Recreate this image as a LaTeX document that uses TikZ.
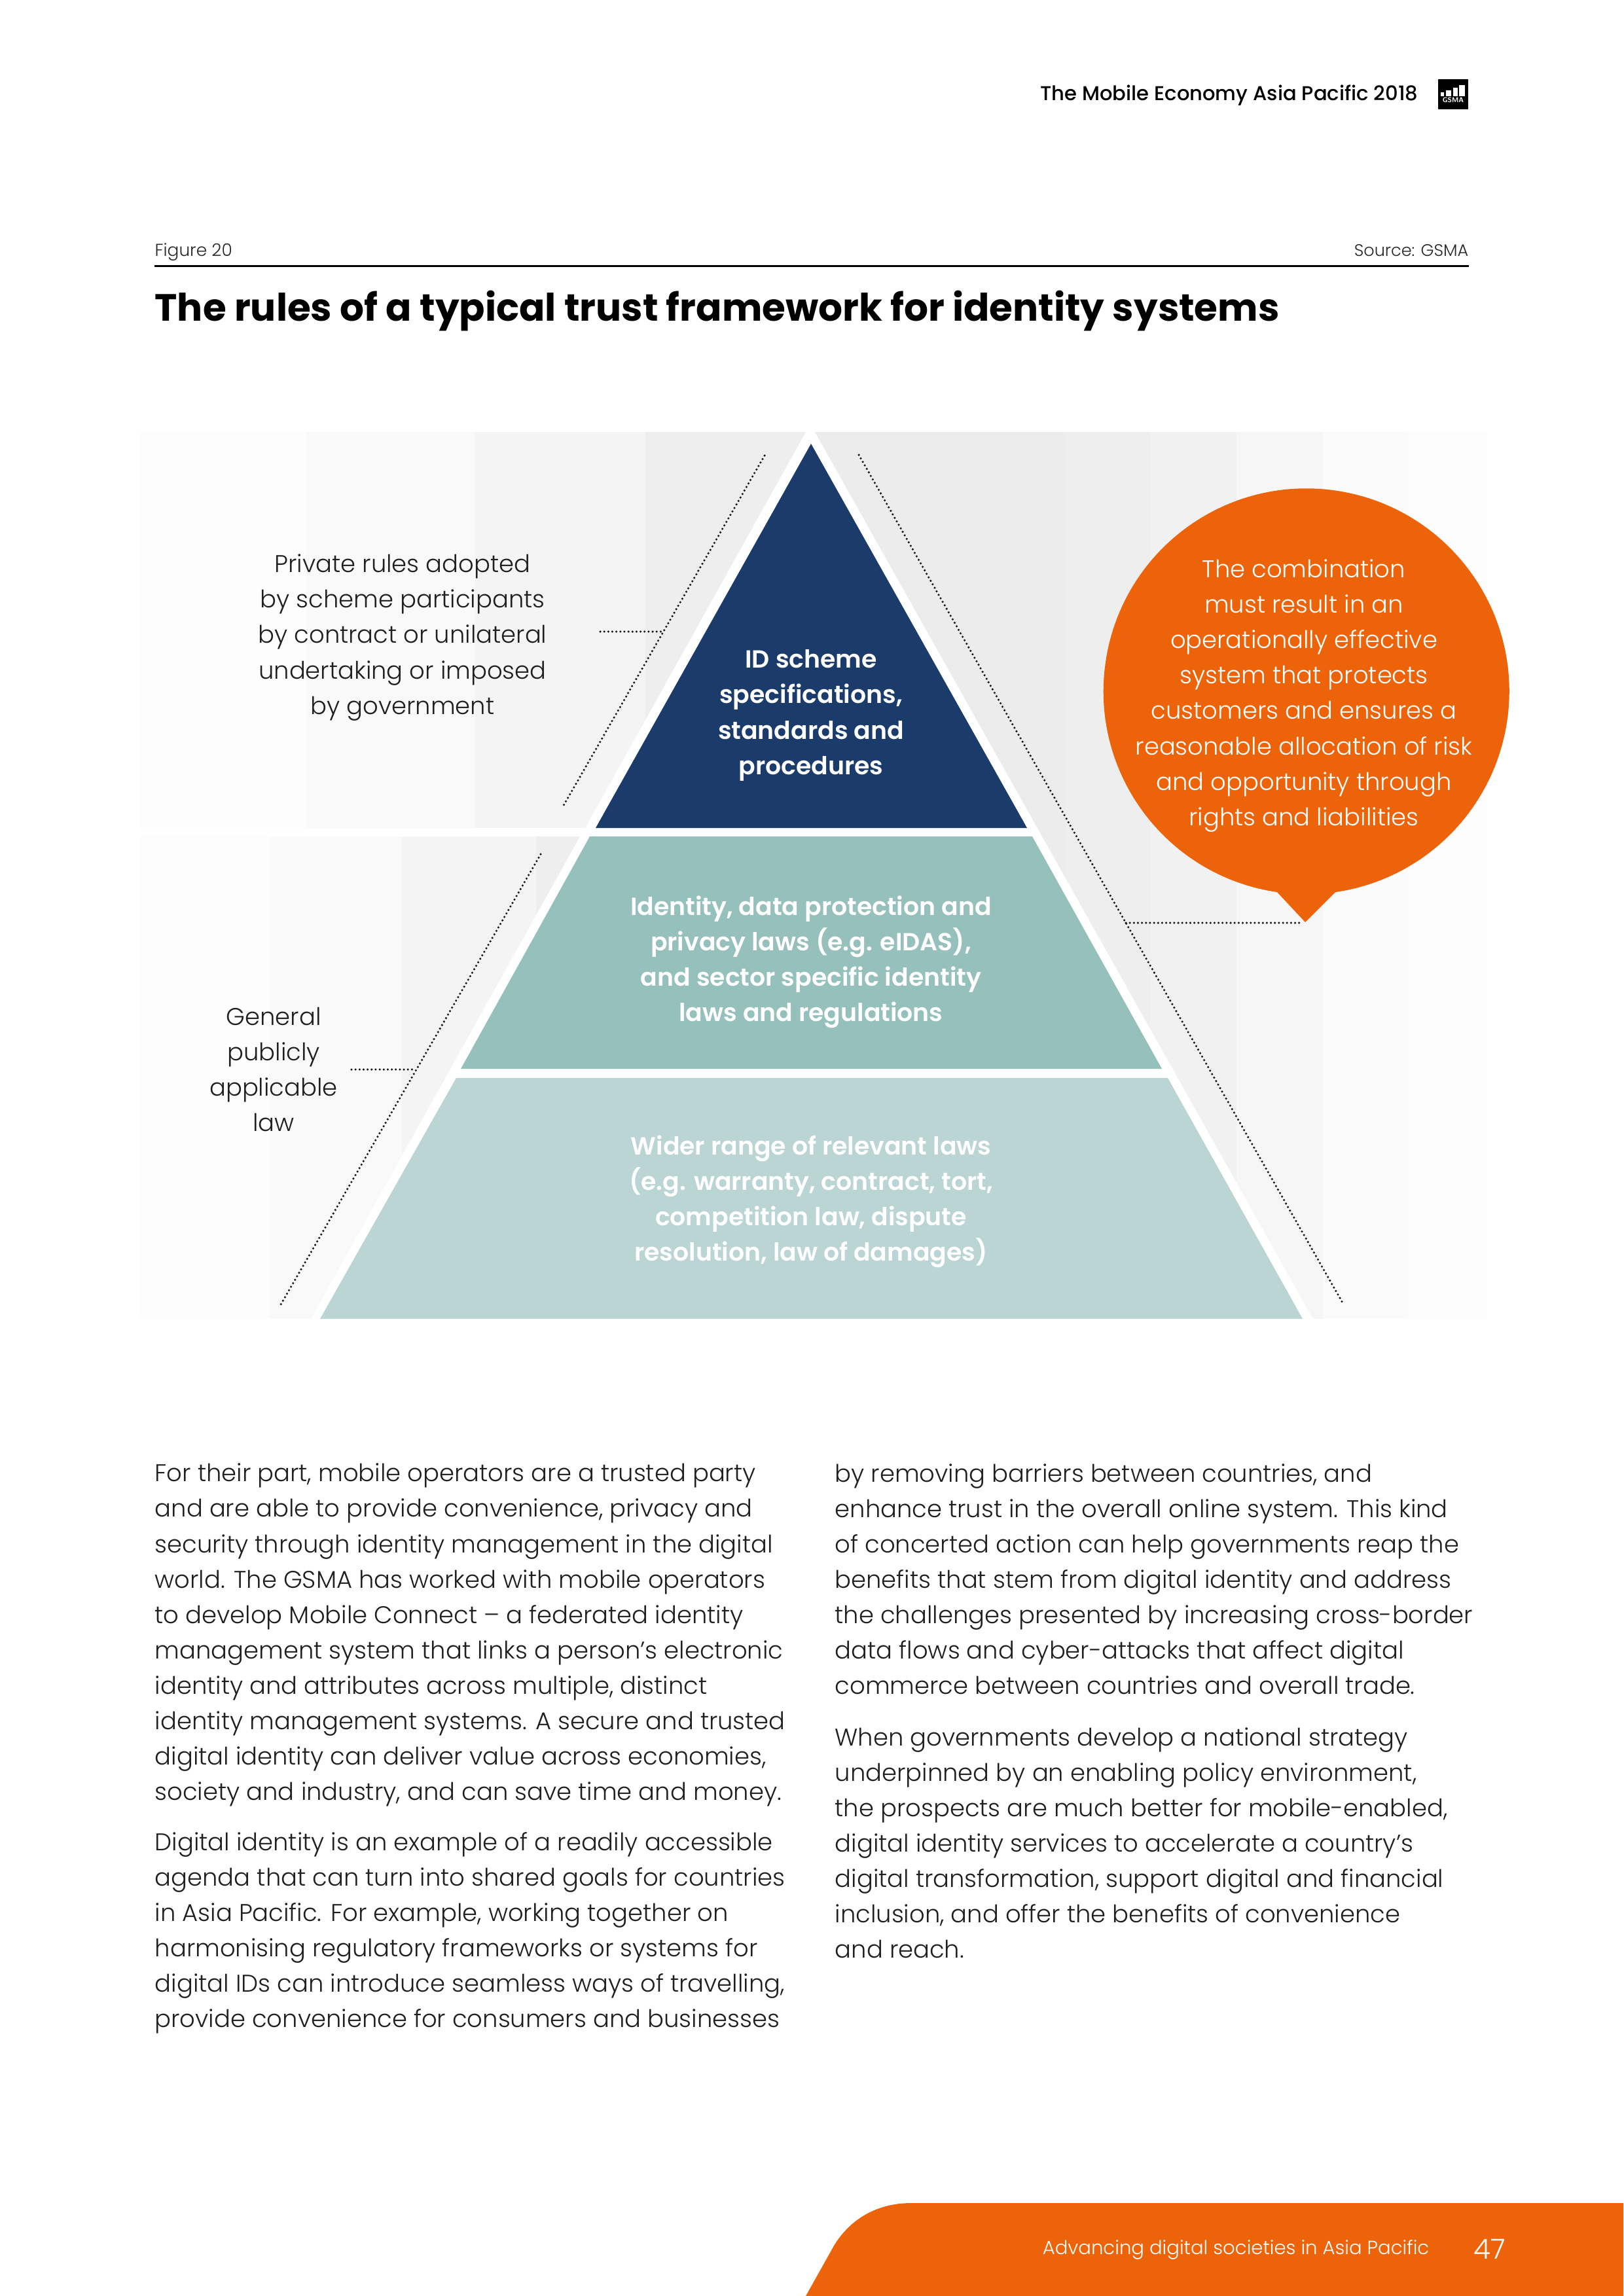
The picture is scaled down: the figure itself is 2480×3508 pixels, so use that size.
\documentclass[tikz,border=0pt]{standalone}
\usepackage{fontspec}
\setmainfont{Poppins}[UprightFont=* Light,BoldFont=* SemiBold]
\newfontfamily\headfont{Poppins}[UprightFont=* Medium,BoldFont=* Bold]
\definecolor{navy}{HTML}{1B3C6B}
\definecolor{tealmid}{HTML}{96C0BC}
\definecolor{teallight}{HTML}{BBD5D4}
\definecolor{orangeb}{HTML}{ED6309}
\newcommand{\fs}[1]{\fontsize{#1pt}{15.37pt}\selectfont}
\tikzset{
 bodytext/.style={anchor=west,align=left,inner sep=0pt,font=\fs{10.5},text=black!88},
 labeltext/.style={align=center,inner sep=0pt,font=\fs{10.5},text=black!88},
 pyrtext/.style={align=center,inner sep=0pt,font=\fs{10.75}\bfseries,text=white},
 leader/.style={draw=black!90,line width=1pt,line cap=round,dash pattern=on 0pt off 1.75pt},
}
\begin{document}
\begin{tikzpicture}[x=0.01cm,y=-0.01cm]
\useasboundingbox (0,0) rectangle (2480,3508);
\fill[white] (0,0) rectangle (2480,3508);
% panels
\begin{scope}
\clip (214,660) -- (1231,660) -- (894,1265) -- (214,1265) -- cycle;
\fill[black!0.7] (214,660) rectangle (468,1265);
\fill[black!2.5] (468,660) rectangle (726,1265);
\fill[black!4.5] (726,660) rectangle (986,1265);
\fill[black!6.5] (986,660) rectangle (1240,1265);
\end{scope}
\begin{scope}
\clip (214,1278) -- (886,1278) -- (475,2015) -- (214,2015) -- cycle;
\fill[black!0.7] (214,1278) rectangle (412,2015);
\fill[black!2.5] (412,1278) rectangle (614,2015);
\fill[black!4.5] (614,1278) rectangle (819,2015);
\fill[black!6.5] (819,1278) rectangle (900,2015);
\end{scope}
\begin{scope}
\clip (1245,660) -- (2272,660) -- (2272,2015) -- (2006,2015) -- cycle;
\fill[black!7.5] (1240,660) rectangle (1628,2015);
\fill[black!6.5] (1628,660) rectangle (1757,2015);
\fill[black!5.5] (1757,660) rectangle (1889,2015);
\fill[black!3.5] (1889,660) rectangle (2021,2015);
\fill[black!1.5] (2021,660) rectangle (2151,2015);
\fill[black!0.7] (2151,660) rectangle (2272,2015);
\end{scope}
% pyramid
\fill[navy] (1239,678) -- (1569,1265) -- (910,1265) -- cycle;
\fill[tealmid] (901,1278) -- (1577,1278) -- (1775,1633) -- (704,1633) -- cycle;
\fill[teallight] (697,1647) -- (1784,1647) -- (1990,2015) -- (489,2015) -- cycle;
\node[pyrtext] (apex) at (1239,1093) {ID scheme\\specifications,\\standards and\\procedures};
\node[pyrtext] (middle) at (1239,1470) {Identity, data protection and\\privacy laws (e.g. eIDAS),\\and sector specific identity\\laws and regulations};
\node[pyrtext] (base) at (1239,1836) {Wider range of relevant laws\\(e.g. warranty, contract, tort,\\competition law, dispute\\resolution, law of damages)};
% labels
\node[labeltext] (private) at (615,974) {Private rules adopted\\by scheme participants\\by contract or unilateral\\undertaking or imposed\\by government};
\node[labeltext] (general) at (418,1634) {General\\publicly\\applicable\\law};
% bubble
\fill[orangeb] (1951,1363) arc[start angle=98.3,end angle=441.7,radius=310] -- (2040,1363) -- (1994,1409) -- cycle;
\node[labeltext,text=white] (bubble) at (1992,1063) {The combination\\must result in an\\operationally effective\\system that protects\\customers and ensures a\\reasonable allocation of risk\\and opportunity through\\rights and liabilities};
% leaders
\coordinate (ua) at (1168,696); \coordinate (ub) at (859,1234);
\coordinate (uh) at (917,965); \coordinate (uj) at (1014,965);
\coordinate (la) at (826,1305); \coordinate (lb) at (429,1993);
\coordinate (lh) at (537,1634); \coordinate (lj) at (635,1634);
\coordinate (ra) at (1312,695); \coordinate (rb) at (2052,1992);
\coordinate (rh) at (1720,1410); \coordinate (rj) at (1986,1410);
\draw[leader] (ua) -- (ub);
\draw[leader] (uh) -- (uj);
\draw[leader] (la) -- (lb);
\draw[leader] (lh) -- (lj);
\draw[leader] (ra) -- (rb);
\draw[leader] (rh) -- (rj);
% header
\node[anchor=base east,inner sep=0pt,font=\headfont\fs{8.7},text=black] (running) at (2167,153) {The Mobile Economy Asia Pacific 2018};
\fill[black] (2197,121) rectangle (2243,167);
\fill[white] (2201,141) rectangle (2206,147);
\fill[white] (2209,138) rectangle (2217,147);
\fill[white] (2220,134) rectangle (2227,147);
\fill[white] (2229,130) rectangle (2238,147);
\node[inner sep=0pt,font=\fontfamily{lmss}\fontsize{3}{3}\selectfont\bfseries,text=white] (logotext) at (2220,153) {GSMA};
\node[anchor=base west,inner sep=0pt,font=\fs{7.5},text=black!85] (figno) at (236,391) {Figure 20};
\node[anchor=base east,inner sep=0pt,font=\fs{7.25},text=black!85] (source) at (2244,391) {Source: GSMA};
\coordinate (rulel) at (236,406); \coordinate (ruler) at (2244,406);
\draw[line width=0.85pt,black] (rulel) -- (ruler);
\node[anchor=base west,inner sep=0pt,font=\headfont\bfseries\fs{16.5},text=black] (title) at (236,490) {The rules of a typical trust framework for identity systems};
% body
\node[bodytext] (p1) at (236,2498) {For their part, mobile operators are a trusted party\\and are able to provide convenience, privacy and\\security through identity management in the digital\\world. The GSMA has worked with mobile operators\\to develop Mobile Connect -- a federated identity\\management system that links a person's electronic\\identity and attributes across multiple, distinct\\identity management systems. A secure and trusted\\digital identity can deliver value across economies,\\society and industry, and can save time and money.};
\node[bodytext] (p2) at (236,2953) {Digital identity is an example of a readily accessible\\agenda that can turn into shared goals for countries\\in Asia Pacific. For example, working together on\\harmonising regulatory frameworks or systems for\\digital IDs can introduce seamless ways of travelling,\\provide convenience for consumers and businesses};
\node[bodytext] (p3) at (1275,2413) {by removing barriers between countries, and\\enhance trust in the overall online system. This kind\\of concerted action can help governments reap the\\benefits that stem from digital identity and address\\the challenges presented by increasing cross-border\\data flows and cyber-attacks that affect digital\\commerce between countries and overall trade.};
\node[bodytext] (p4) at (1275,2816) {When governments develop a national strategy\\underpinned by an enabling policy environment,\\the prospects are much better for mobile-enabled,\\digital identity services to accelerate a country's\\digital transformation, support digital and financial\\inclusion, and offer the benefits of convenience\\and reach.};
% footer
\fill[orangeb] (1231,3508) -- (1273,3433) .. controls (1295,3395) and (1335,3366) .. (1392,3366) -- (2480,3366) -- (2480,3508) -- cycle;
\node[anchor=base east,inner sep=0pt,font=\fs{8.28},text=white] (foot) at (2184,3444) {Advancing digital societies in Asia Pacific};
\node[anchor=base west,inner sep=0pt,font=\fs{12},text=white] (pageno) at (2251,3451) {47};
\end{tikzpicture}
\end{document}
